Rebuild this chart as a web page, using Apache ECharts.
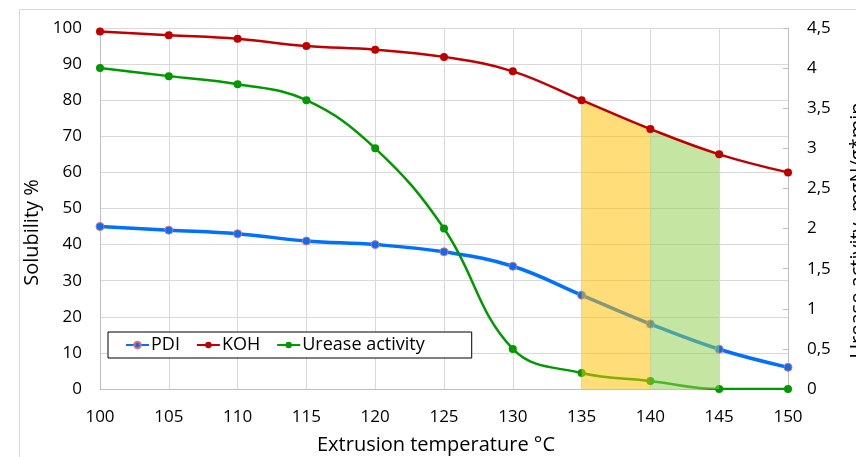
<!DOCTYPE html>
<html>
<head>
<meta charset="utf-8">
<script src="https://cdn.jsdelivr.net/npm/echarts@6/dist/echarts.min.js"></script>
<style>
html,body{margin:0;padding:0;background:#fff;}
#chart{width:856px;height:457px;}
</style>
</head>
<body>
<div id="chart"></div>
<script>
var temperatures = [100, 105, 110, 115, 120, 125, 130, 135, 140, 145, 150];
var pdiValues = [45, 44, 43, 41, 40, 38, 34, 26, 18, 11, 6];
var kohValues = [99, 98, 97, 95, 94, 92, 88, 80, 72, 65, 60];
var ureaseValues = [4.0, 3.9, 3.8, 3.6, 3.0, 2.0, 0.5, 0.2, 0.1, 0.0, 0.0];
var orangeBand = [135, 140];
var greenBand = [140, 145];

function pairs(xs, ys) { return xs.map(function (x, i) { return [x, ys[i]]; }); }
function band(range) {
  return range.map(function (x) { return [x, kohValues[temperatures.indexOf(x)]]; });
}

var FONT = 'Open Sans';
var chart = echarts.init(document.getElementById('chart'));
chart.setOption({
  animation: false,
  textStyle: { fontFamily: FONT },
  graphic: [{
    type: 'rect', silent: true,
    shape: { x: 19.5, y: 9.5, width: 900, height: 600 },
    style: { fill: 'none', stroke: '#d9d9d9', lineWidth: 1 }
  }],
  grid: { left: 100, right: 68, top: 28, bottom: 68, outerBoundsMode: 'none', containLabel: false },
  legend: {
    data: ['PDI', 'KOH', 'Urease activity'],
    left: 108, top: 332,
    orient: 'horizontal',
    backgroundColor: '#fff',
    borderColor: '#000', borderWidth: 1, borderRadius: 0,
    padding: [4, 47, 4, 17],
    itemWidth: 23, itemHeight: 8, itemGap: 16,
    textStyle: { fontFamily: FONT, fontSize: 18, color: '#000', padding: [0, 0, 0, -3] }
  },
  xAxis: {
    type: 'value', min: 100, max: 150, interval: 5,
    name: 'Extrusion temperature °C', nameLocation: 'middle', nameGap: 46,
    nameTextStyle: { fontFamily: FONT, fontSize: 20, color: '#000', padding: [0, 16, 0, 0] },
    axisLine: { show: true, lineStyle: { color: '#bfbfbf', width: 1 } },
    axisTick: { show: false },
    axisLabel: { fontFamily: FONT, fontSize: 17, color: '#000', margin: 20 },
    splitLine: { show: true, lineStyle: { color: '#d9d9d9', width: 1 } }
  },
  yAxis: [{
    type: 'value', min: 0, max: 100, interval: 10,
    name: 'Solubility %', nameLocation: 'middle', nameGap: 43,
    nameTextStyle: { fontFamily: FONT, fontSize: 20, color: '#000', padding: [0, 48, 0, 0] },
    axisLine: { show: true, lineStyle: { color: '#bfbfbf', width: 1 } },
    axisTick: { show: false },
    axisLabel: { fontFamily: FONT, fontSize: 17, color: '#000', margin: 18 },
    splitLine: { show: true, lineStyle: { color: '#d9d9d9', width: 1 } }
  }, {
    type: 'value', min: 0, max: 4.5, interval: 0.5, position: 'right',
    name: 'Urease activity, mgN/g*min', nameLocation: 'middle', nameGap: 60,
    nameTextStyle: { fontFamily: FONT, fontSize: 20, color: '#000', padding: [0, 44, 0, 0] },
    axisLine: { show: true, lineStyle: { color: '#bfbfbf', width: 1 } },
    axisTick: { show: true, inside: true, length: 5, lineStyle: { color: '#bfbfbf' } },
    axisLabel: {
      fontFamily: FONT, fontSize: 17, color: '#000', margin: 19,
      formatter: function (v) { return String(v).replace('.', ','); }
    },
    splitLine: { show: false }
  }],
  series: [{
    name: 'PDI', type: 'line', smooth: 0.4, yAxisIndex: 0,
    data: pairs(temperatures, pdiValues),
    symbol: 'circle', symbolSize: 8,
    lineStyle: { color: '#0070ff', width: 3.5 },
    itemStyle: { color: '#0070ff', borderColor: '#e36c6c', borderWidth: 1 },
    z: 3
  }, {
    name: 'Urease activity', type: 'line', smooth: 0.4, yAxisIndex: 1,
    data: pairs(temperatures, ureaseValues),
    symbol: 'circle', symbolSize: 8,
    lineStyle: { color: '#009900', width: 2.5 },
    itemStyle: { color: '#009900' },
    z: 3
  }, {
    name: 'band135', type: 'line', yAxisIndex: 0, silent: true,
    data: band(orangeBand), symbol: 'none',
    lineStyle: { width: 0 },
    areaStyle: { color: 'rgba(255,192,0,0.52)', opacity: 1, origin: 'start' },
    z: 4
  }, {
    name: 'band140', type: 'line', yAxisIndex: 0, silent: true,
    data: band(greenBand), symbol: 'none',
    lineStyle: { width: 0 },
    areaStyle: { color: 'rgba(146,208,80,0.53)', opacity: 1, origin: 'start' },
    z: 4
  }, {
    name: 'KOH', type: 'line', smooth: 0.4, yAxisIndex: 0,
    data: pairs(temperatures, kohValues),
    symbol: 'circle', symbolSize: 8,
    lineStyle: { color: '#c00000', width: 2.5 },
    itemStyle: { color: '#c00000' },
    z: 5
  }]
});
</script>
</body>
</html>
